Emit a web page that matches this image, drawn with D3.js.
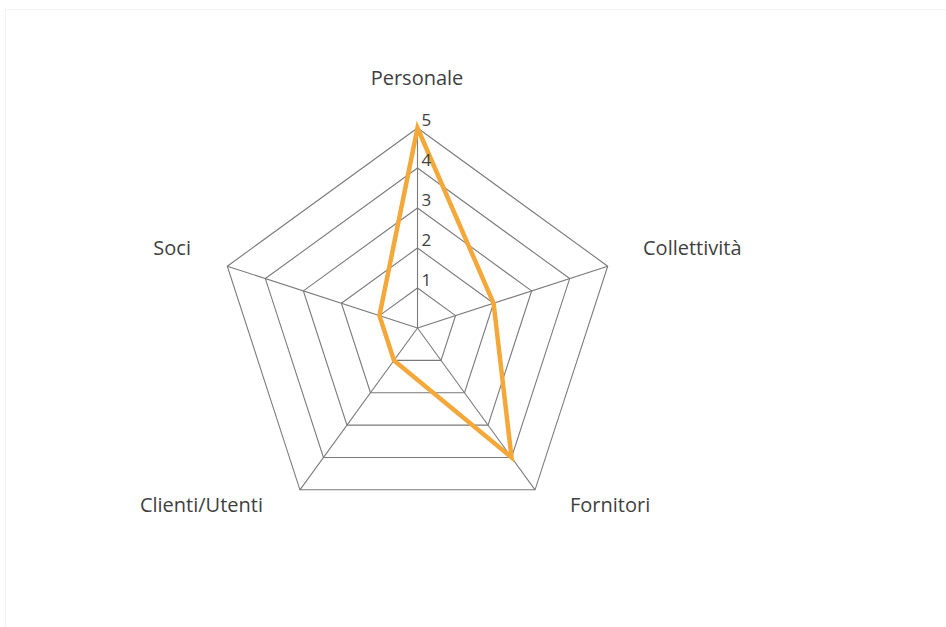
<!DOCTYPE html>
<html lang="it">
<head>
    <meta charset="UTF-8">
    <title>Radar - Stakeholder</title>
    <script src="https://d3js.org/d3.v7.min.js"></script>
    <style>
        body { margin: 0; background: #fff; font-family: "Open Sans", sans-serif; }
        svg { display: block; }
        .cat { font-size: 20px; fill: #3f3f3f; }
        .tick { font-size: 17px; fill: #3f3f3f; }
    </style>
</head>
<body>
    <svg width="946" height="627"></svg>
    <script>
        // dati
        const categories = ["Personale", "Collettività", "Fornitori", "Clienti/Utenti", "Soci"];
        const values = [5, 2, 4, 1, 1];
        const tickValues = [1, 2, 3, 4, 5];

        const svg = d3.select("svg");
        const cx = 417.5, cy = 328, radius = 200;

        // cornice leggera dell'area grafico
        svg.append("rect")
            .attr("x", 5.5).attr("y", 9.5)
            .attr("width", 950).attr("height", 640)
            .attr("fill", "none")
            .attr("stroke", "#f3f3f3");

        const r = d3.scaleLinear().domain([0, 5]).range([0, radius]);
        const angle = d3.scalePoint().domain(categories).range([0, 2 * Math.PI * 4 / 5]);

        const g = svg.append("g").attr("transform", `translate(${cx},${cy})`);

        const pt = (cat, v) => {
            const a = angle(cat);
            return [r(v) * Math.sin(a), -r(v) * Math.cos(a)];
        };

        // anelli della griglia
        tickValues.forEach(t => {
            g.append("path")
                .attr("d", d3.line()(categories.map(c => pt(c, t))) + "Z")
                .attr("fill", "none")
                .attr("stroke", "#7a7a7a")
                .attr("stroke-width", 1.1);
        });

        // raggi
        categories.forEach(c => {
            const [x, y] = pt(c, 5);
            g.append("line")
                .attr("x1", 0).attr("y1", 0)
                .attr("x2", x).attr("y2", y)
                .attr("stroke", "#7a7a7a")
                .attr("stroke-width", 1.1);
        });

        // serie
        g.append("path")
            .attr("d", d3.line()(categories.map((c, i) => pt(c, values[i]))) + "Z")
            .attr("fill", "none")
            .attr("stroke", "#f4a83a")
            .attr("stroke-width", 4.5)
            .attr("stroke-linejoin", "miter");

        // etichette dei valori sull'asse
        tickValues.forEach(t => {
            g.append("text")
                .attr("class", "tick")
                .attr("x", 4)
                .attr("y", -r(t) - 2)
                .text(t);
        });

        // etichette delle categorie
        const labelPos = {
            "Personale": { x: 417, y: 85, anchor: "middle" },
            "Collettività": { x: 643, y: 255, anchor: "start" },
            "Fornitori": { x: 570, y: 512, anchor: "start" },
            "Clienti/Utenti": { x: 263, y: 512, anchor: "end" },
            "Soci": { x: 191, y: 255, anchor: "end" }
        };
        categories.forEach(c => {
            const p = labelPos[c];
            svg.append("text")
                .attr("class", "cat")
                .attr("x", p.x).attr("y", p.y)
                .attr("text-anchor", p.anchor)
                .text(c);
        });
    </script>
</body>
</html>
